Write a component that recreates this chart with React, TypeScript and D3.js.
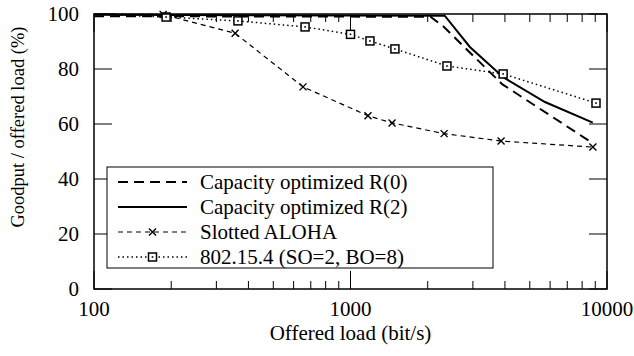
import React, { useEffect, useRef } from "react";
import * as d3 from "d3";

// Offered load (bit/s) and goodput / offered load (%).
const r0Load = [100, 2050, 2300, 3900, 8800];
const r0Goodput = [99.2, 99.0, 95.5, 74.5, 53];

const r2Load = [100, 2330, 2920, 3940, 5730, 8800];
const r2Goodput = [99.7, 99.4, 88, 77, 68, 60.5];

const alohaLoad = [100, 186, 355, 653, 1170, 1452, 2317, 3864, 8810];
const alohaGoodput = [100, 99.8, 93, 73.5, 63, 60.4, 56.5, 53.8, 51.6];

const ieeeLoad = [100, 191, 364, 665, 1000, 1191, 1490, 2377, 3936, 9060];
const ieeeGoodput = [100, 98.9, 97.5, 95.3, 92.6, 90.2, 87.3, 81.1, 78.2, 67.6];

const xTicks = [100, 1000, 10000];
const yTicks = [0, 20, 40, 60, 80, 100];
const legendLabels = [
  "Capacity optimized R(0)",
  "Capacity optimized R(2)",
  "Slotted ALOHA",
  "802.15.4 (SO=2, BO=8)",
];

type Pt = { load: number; gp: number };
const zip = (l: number[], g: number[]): Pt[] => l.map((v, i) => ({ load: v, gp: g[i] }));

const FONT = "Liberation Serif";
const FS = 21;

export default function App() {
  const svgRef = useRef<SVGSVGElement>(null);

  useEffect(() => {
    if (!svgRef.current) return;
    const W = 634, H = 356;
    d3.select(svgRef.current).selectAll("*").remove();
    const svg = d3.select(svgRef.current).attr("width", W).attr("height", H);

    const left = 94, right = 607, top = 14, bottom = 289;
    const x = d3.scaleLog().domain([100, 10000]).range([left, right]);
    const y = d3.scaleLinear().domain([0, 100]).range([bottom, top]);

    const label = (sel: any) => sel.attr("font-family", FONT).attr("font-size", FS).attr("fill", "#000");

    const MAJOR = 18, MINOR = 8;
    const g = svg.append("g").attr("stroke", "#000").attr("fill", "none").attr("stroke-width", 1);

    // y ticks, both sides
    yTicks.forEach(t => {
      g.append("line").attr("x1", left).attr("x2", left + MAJOR).attr("y1", y(t)).attr("y2", y(t));
      g.append("line").attr("x1", right).attr("x2", right - MAJOR).attr("y1", y(t)).attr("y2", y(t));
    });
    // x ticks (log minors), bottom and top
    const minors: number[] = [];
    for (const dec of [100, 1000]) for (let k = 2; k <= 9; k++) minors.push(dec * k);
    xTicks.forEach(t => {
      g.append("line").attr("x1", x(t)).attr("x2", x(t)).attr("y1", bottom).attr("y2", bottom - MAJOR);
      g.append("line").attr("x1", x(t)).attr("x2", x(t)).attr("y1", top).attr("y2", top + MAJOR);
    });
    minors.forEach(t => {
      g.append("line").attr("x1", x(t)).attr("x2", x(t)).attr("y1", bottom).attr("y2", bottom - MINOR);
      g.append("line").attr("x1", x(t)).attr("x2", x(t)).attr("y1", top).attr("y2", top + MINOR);
    });

    const line = d3.line<Pt>().x(d => x(d.load)).y(d => y(d.gp));

    const series = [
      { data: zip(r0Load, r0Goodput), dash: "10,6", w: 2, marker: "none" },
      { data: zip(r2Load, r2Goodput), dash: null, w: 2, marker: "none" },
      { data: zip(alohaLoad, alohaGoodput), dash: "5,4", w: 1.2, marker: "x" },
      { data: zip(ieeeLoad, ieeeGoodput), dash: "1.5,3", w: 1.5, marker: "box" },
    ];

    const drawMarker = (sel: any, kind: string, cx: number, cy: number) => {
      if (kind === "x") {
        const s = 3.5;
        sel.append("path").attr("d", `M${cx - s},${cy - s}L${cx + s},${cy + s}M${cx - s},${cy + s}L${cx + s},${cy - s}`)
          .attr("stroke", "#000").attr("stroke-width", 1.4).attr("fill", "none");
      } else if (kind === "box") {
        const s = 4;
        sel.append("rect").attr("x", cx - s).attr("y", cy - s).attr("width", 2 * s).attr("height", 2 * s)
          .attr("stroke", "#000").attr("stroke-width", 1.5).attr("fill", "#fff");
        sel.append("rect").attr("x", cx - 0.8).attr("y", cy - 0.8).attr("width", 1.6).attr("height", 1.6).attr("fill", "#000");
      }
    };

    series.forEach(s => {
      svg.append("path").datum(s.data).attr("d", line).attr("fill", "none").attr("stroke", "#000")
        .attr("stroke-width", s.w).attr("stroke-dasharray", s.dash);
    });
    series.forEach(s => {
      // no marker on the left border point
      s.data.filter(d => d.load > 100).forEach(d => drawMarker(svg, s.marker, x(d.load), y(d.gp)));
    });

    // legend
    const lg = svg.append("g");
    lg.append("rect").attr("x", 107).attr("y", 167).attr("width", 386).attr("height", 101)
      .attr("fill", "#fff").attr("stroke", "#000").attr("stroke-width", 1);
    series.forEach((s, i) => {
      const ly = 182 + i * 25;
      lg.append("line").attr("x1", 118).attr("x2", 187).attr("y1", ly).attr("y2", ly)
        .attr("stroke", "#000").attr("stroke-width", s.w).attr("stroke-dasharray", s.dash);
      drawMarker(lg, s.marker, 152.5, ly);
      lg.append("text").attr("x", 200).attr("y", ly).attr("dy", "0.33em").call(label).text(legendLabels[i]);
    });

    // frame
    svg.append("rect").attr("x", left).attr("y", top).attr("width", right - left).attr("height", bottom - top)
      .attr("fill", "none").attr("stroke", "#000").attr("stroke-width", 1.5);

    // tick labels
    yTicks.forEach(t => {
      svg.append("text").attr("x", 79).attr("y", y(t)).attr("dy", "0.33em").attr("text-anchor", "end").call(label).text(t);
    });
    xTicks.forEach(t => {
      svg.append("text").attr("x", x(t)).attr("y", 316).attr("text-anchor", "middle").call(label).text(t);
    });

    // axis titles
    svg.append("text").attr("x", (left + right) / 2).attr("y", 340).attr("text-anchor", "middle")
      .call(label).text("Offered load (bit/s)");
    svg.append("text").attr("transform", "rotate(-90)").attr("x", -127).attr("y", 24).attr("text-anchor", "middle")
      .call(label).attr("font-size", 18.5).text("Goodput / offered load (%)");
  }, []);

  return (
    <div style={{ position: "absolute", left: 0, top: 0, width: 634, height: 356, background: "#fff" }}>
      <svg ref={svgRef} style={{ display: "block" }}></svg>
    </div>
  );
}
